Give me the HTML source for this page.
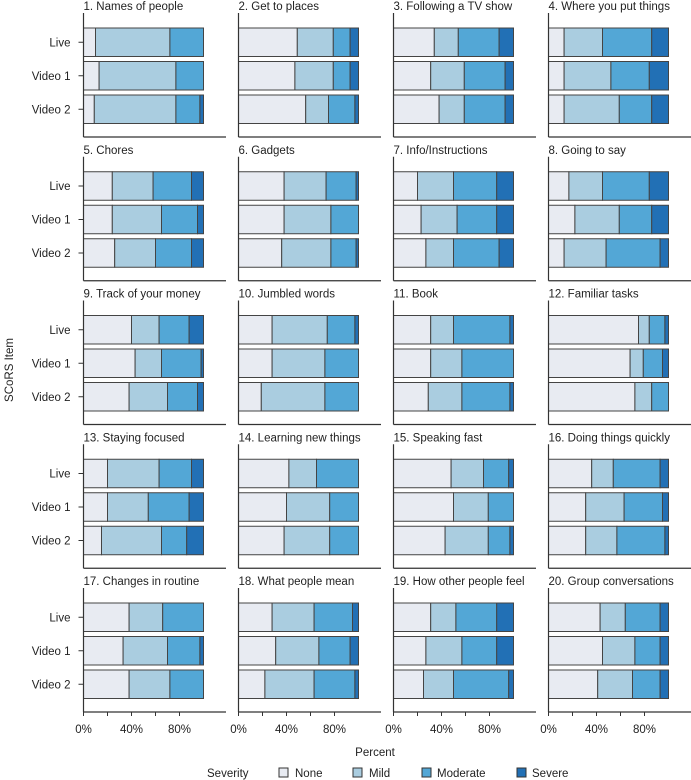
<!DOCTYPE html>
<html><head><meta charset="utf-8"><style>
html,body{margin:0;padding:0;background:#fff;}
svg{display:block;font-family:"Liberation Sans",Arial,sans-serif;}
</style></head><body>
<svg id="chart" width="691" height="780" viewBox="0 0 691 780" xmlns="http://www.w3.org/2000/svg">
<text x="0" y="0" transform="translate(13,370) rotate(-90)" text-anchor="middle" font-size="11.5" fill="#222">SCoRS Item</text>
<text x="375" y="756" text-anchor="middle" font-size="11.5" fill="#222">Percent</text>
<g font-size="11.5" fill="#222">
<text x="207" y="777">Severity</text>
<rect x="279" y="768" width="9" height="9" fill="#e8ebf2" stroke="#333"/>
<text x="295" y="777">None</text>
<rect x="353" y="768" width="9" height="9" fill="#aacde0" stroke="#333"/>
<text x="369" y="777">Mild</text>
<rect x="422" y="768" width="9" height="9" fill="#53a7d6" stroke="#333"/>
<text x="437" y="777">Moderate</text>
<rect x="517" y="768" width="9" height="9" fill="#2270b5" stroke="#333"/>
<text x="532" y="777">Severe</text>
</g>
</svg>
<script>
const items = ["1. Names of people","2. Get to places","3. Following a TV show","4. Where you put things","5. Chores","6. Gadgets","7. Info/Instructions","8. Going to say","9. Track of your money","10. Jumbled words","11. Book","12. Familiar tasks","13. Staying focused","14. Learning new things","15. Speaking fast","16. Doing things quickly","17. Changes in routine","18. What people mean","19. How other people feel","20. Group conversations"];
const conditions = ["Live","Video 1","Video 2"];
const severities = ["None","Mild","Moderate","Severe"];
const xTickValues = [0,20,40,60,80];
const xTickLabels = ["0%","","40%","","80%"];
// per item: [Live, Video1, Video2] each [None, Mild, Moderate, Severe] (%)
const noneVals = [[10,13,9],[49,47,56],[34,31,38],[13,13,13],[24,24,26],[38,38,36],[20,23,27],[17,22,13],[40,43,38],[28,28,19],[31,31,29],[75,68,72],[20,20,15],[42,40,38],[48,50,43],[36,31,31],[38,33,38],[28,31,22],[31,27,25],[43,45,41]];
const mildVals = [[62,64,68],[30,32,19],[20,28,21],[32,39,46],[34,41,34],[35,39,41],[30,30,23],[28,37,35],[23,22,32],[46,44,53],[19,26,28],[9,11,14],[43,34,50],[23,36,38],[27,29,36],[18,32,26],[28,37,34],[35,36,41],[21,30,25],[21,27,29]];
const moderateVals = [[28,23,20],[14,14,22],[34,34,34],[41,32,27],[32,30,30],[25,23,21],[36,33,38],[39,27,45],[25,33,25],[23,28,28],[47,43,40],[13,16,14],[27,34,21],[35,24,24],[21,21,18],[39,32,40],[34,27,28],[32,26,34],[34,29,46],[29,21,23]];
const severeVals = [[0,0,3],[7,7,3],[12,7,7],[14,16,14],[10,5,10],[2,0,2],[14,14,12],[16,14,7],[12,2,5],[3,0,0],[3,0,3],[3,5,0],[10,12,14],[0,0,0],[4,0,3],[7,5,3],[0,3,0],[5,7,3],[14,14,4],[7,7,7]];

const colors = ["#e8ebf2","#aacde0","#53a7d6","#2270b5"];
const NS = "http://www.w3.org/2000/svg";
const svg = document.getElementById("chart");
function mk(tag, attrs, parent){const e=document.createElementNS(NS,tag);for(const k in attrs)e.setAttribute(k,attrs[k]);(parent||svg).appendChild(e);return e;}
const colX0 = 83.5, colStep = 155, rowY0 = 28, rowStep = 143.75, pxPerPct = 1.2, barH = 28.5, barStep = 33.5;
function xScale(c, v){return colX0 + c*colStep + v*pxPerPct;}
function yBar(r, i){return rowY0 + r*rowStep + i*barStep;}

items.forEach((name, k) => {
  const c = k % 4, r = Math.floor(k / 4);
  const g = mk("g", {});
  
  
  const left = xScale(c, 0);
  const top = yBar(r, 0) - 15, bottom = yBar(r, 0) + 109;
  const t = mk("text", {x:left, y:top-3, "font-size":"11.5", fill:"#222"}, g);
  t.textContent = name;
  
  
  const vals = [noneVals[k], mildVals[k], moderateVals[k], severeVals[k]];
  conditions.forEach((cond, i) => {
    let acc = 0;
    const y = yBar(r, i);
    for (let s = 0; s < 4; s++) {
      const v = vals[s][i];
      if (v > 0) {
        const rc = mk("rect", {x:xScale(c, acc), y:y, width:xScale(c, acc+v)-xScale(c, acc), height:barH, fill:colors[s], stroke:"#444", "stroke-width":"1"}, g);
        
        
      }
      acc += v;
    }
    if (c === 0) {
      const tk = mk("line", {x1:left-5, x2:left, y1:y+barH/2, y2:y+barH/2, stroke:"#333"}, g);
      
      
      const lb = mk("text", {x:left-13, y:y+barH/2+4, "text-anchor":"end", "font-size":"11.5", fill:"#222"}, g);
      lb.textContent = cond;
      
      
    }
  });
  const ya = mk("line", {x1:left, x2:left, y1:top, y2:bottom, stroke:"#333", "stroke-width":"1.2"}, g);
  
  
  const xa = mk("line", {x1:left, x2:left+142.5, y1:bottom, y2:bottom, stroke:"#333", "stroke-width":"1.2"}, g);
  
  
  if (r === 4) {
    xTickValues.forEach((v, j) => {
      const x = xScale(c, v);
      const tk = mk("line", {x1:x, x2:x, y1:bottom, y2:bottom+4, stroke:"#333"}, g);
      
      
      if (xTickLabels[j]) {
        const lb = mk("text", {x:x, y:bottom+21, "text-anchor":"middle", "font-size":"11.5", fill:"#222"}, g);
        lb.textContent = xTickLabels[j];
        
        
      }
    });
  }
});
</script>
</body></html>
